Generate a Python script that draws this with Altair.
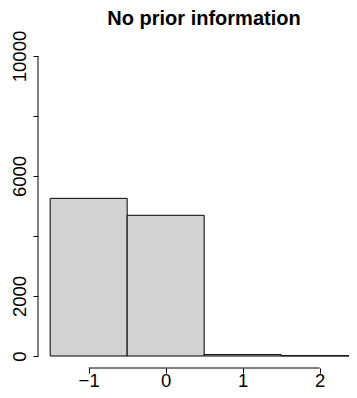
import altair as alt
import pandas as pd

# Histogram data
bin_start = [-1.5, -0.5, 0.5, 1.5]
bin_end = [-0.5, 0.5, 1.5, 2.5]
counts = [5255, 4690, 47, 8]

x_ticks = [-1, 0, 1, 2]
y_ticks = [0, 2000, 4000, 6000, 8000, 10000]

title_text = "No prior information"

df = pd.DataFrame({"start": bin_start, "end": bin_end, "count": counts})

FONT = "Liberation Sans"
W, H = 311, 324
PX_PER_UNIT = 77.0
x_lo = -1.658
y_lo, y_hi = -400, 10400
xscale = alt.Scale(domain=[x_lo, x_lo + W / PX_PER_UNIT], nice=False, zero=False)
yscale = alt.Scale(domain=[y_lo, y_hi], nice=False, zero=False)

xaxis = alt.Axis(values=x_ticks, title=None, domain=False, grid=False, format="d",
                 tickSize=5, tickColor="black", tickWidth=1,
                 labelFontSize=18.5, labelFont=FONT, labelColor="black",
                 labelPadding=13.5, labelBaseline="alphabetic", labelFlush=False, labelOverlap=False)
yaxis = alt.Axis(values=y_ticks, title=None, domain=False, grid=False, format="d",
                 tickSize=5, tickColor="black", tickWidth=1,
                 labelExpr="(datum.value == 4000 || datum.value == 8000) ? '' : datum.label",
                 labelAngle=270, labelAlign="center", labelBaseline="alphabetic",
                 labelFontSize=18.5, labelFont=FONT, labelColor="black",
                 labelPadding=8, labelFlush=False, labelOverlap=False)

bars = alt.Chart(df).mark_rect(fill="#D3D3D3", stroke="black", strokeWidth=1, clip=True).encode(
    x=alt.X("start:Q", scale=xscale, axis=xaxis),
    x2="end:Q",
    y=alt.Y("count:Q", scale=yscale, axis=yaxis),
    y2=alt.datum(0),
)

# x axis line from first to last tick, at the bottom of the y range
xline_df = pd.DataFrame({"start": [x_ticks[0], x_ticks[-1]], "count": [y_lo, y_lo]})
xline = alt.Chart(xline_df).mark_line(color="black", strokeWidth=1).encode(
    x=alt.X("start:Q", scale=xscale, axis=xaxis),
    y=alt.Y("count:Q", scale=yscale, axis=yaxis),
)

# y axis line from first to last tick, at the left of the x range
yline_df = pd.DataFrame({"count": [y_ticks[0]], "top": [y_ticks[-1]], "start": [x_lo]})
yline = alt.Chart(yline_df).mark_rule(color="black", strokeWidth=1).encode(
    y=alt.Y("count:Q", scale=yscale, axis=yaxis),
    y2="top:Q",
    x=alt.X("start:Q", scale=xscale, axis=xaxis),
)

title_df = pd.DataFrame({"label": [title_text]})
title = alt.Chart(title_df).mark_text(
    font=FONT, fontSize=20, fontWeight="bold", color="black",
    align="center", baseline="alphabetic",
).encode(
    text="label:N",
    x=alt.value(166),
    y=alt.value(-19),
)

chart = alt.layer(bars, xline, yline, title).properties(
    width=W, height=H,
    autosize=alt.AutoSizeParams(type="none"),
    padding={"left": 30, "top": 36, "right": 0, "bottom": 22},
).configure_view(stroke=None)

chart.save("out.html", embed_options={"renderer": "svg", "actions": False})
